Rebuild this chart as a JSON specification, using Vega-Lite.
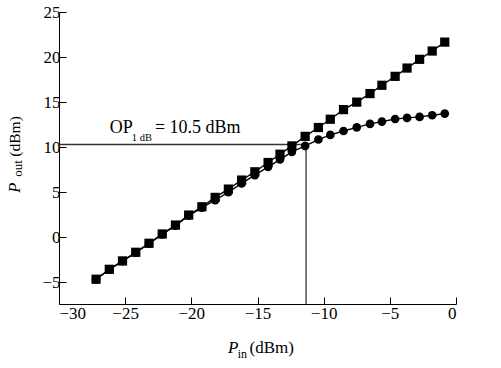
{
  "$schema": "https://vega.github.io/schema/vega-lite/v6.json",
  "width": 397,
  "height": 292,
  "autosize": "none",
  "padding": {"left": 59, "top": 12, "right": 45, "bottom": 64},
  "background": "white",
  "config": {
    "view": {"stroke": null},
    "text": {"font": "Liberation Serif"},
    "axis": {
      "domainColor": "black",
      "domainWidth": 1,
      "tickColor": "black",
      "tickWidth": 1,
      "labelColor": "black",
      "labelFont": "Liberation Serif",
      "labelFontSize": 17,
      "grid": false,
      "title": null
    }
  },
  "datasets": {
    "curves": [
      {"series": "linear", "pin": -27.2, "pout": -4.65},
      {"series": "linear", "pin": -26.2, "pout": -3.55},
      {"series": "linear", "pin": -25.2, "pout": -2.62},
      {"series": "linear", "pin": -24.2, "pout": -1.66},
      {"series": "linear", "pin": -23.2, "pout": -0.66},
      {"series": "linear", "pin": -22.2, "pout": 0.37},
      {"series": "linear", "pin": -21.2, "pout": 1.36},
      {"series": "linear", "pin": -20.2, "pout": 2.47},
      {"series": "linear", "pin": -19.2, "pout": 3.39},
      {"series": "linear", "pin": -18.2, "pout": 4.43},
      {"series": "linear", "pin": -17.2, "pout": 5.35},
      {"series": "linear", "pin": -16.2, "pout": 6.35},
      {"series": "linear", "pin": -15.2, "pout": 7.27},
      {"series": "linear", "pin": -14.2, "pout": 8.3},
      {"series": "linear", "pin": -13.3, "pout": 9.22},
      {"series": "linear", "pin": -12.4, "pout": 10.14},
      {"series": "linear", "pin": -11.4, "pout": 11.2},
      {"series": "linear", "pin": -10.4, "pout": 12.18},
      {"series": "linear", "pin": -9.5, "pout": 13.1},
      {"series": "linear", "pin": -8.5, "pout": 14.17},
      {"series": "linear", "pin": -7.5, "pout": 15.0},
      {"series": "linear", "pin": -6.5, "pout": 15.95},
      {"series": "linear", "pin": -5.6, "pout": 16.87},
      {"series": "linear", "pin": -4.6, "pout": 17.86},
      {"series": "linear", "pin": -3.7, "pout": 18.78},
      {"series": "linear", "pin": -2.75, "pout": 19.75},
      {"series": "linear", "pin": -1.8, "pout": 20.67},
      {"series": "linear", "pin": -0.85, "pout": 21.66},
      {"series": "measured", "pin": -27.2, "pout": -4.65},
      {"series": "measured", "pin": -26.2, "pout": -3.6},
      {"series": "measured", "pin": -25.2, "pout": -2.65},
      {"series": "measured", "pin": -24.2, "pout": -1.7},
      {"series": "measured", "pin": -23.2, "pout": -0.7},
      {"series": "measured", "pin": -22.2, "pout": 0.33},
      {"series": "measured", "pin": -21.2, "pout": 1.3},
      {"series": "measured", "pin": -20.2, "pout": 2.4},
      {"series": "measured", "pin": -19.2, "pout": 3.3},
      {"series": "measured", "pin": -18.2, "pout": 4.13},
      {"series": "measured", "pin": -17.2, "pout": 5.0},
      {"series": "measured", "pin": -16.2, "pout": 5.98},
      {"series": "measured", "pin": -15.2, "pout": 6.9},
      {"series": "measured", "pin": -14.2, "pout": 7.82},
      {"series": "measured", "pin": -13.3, "pout": 8.63},
      {"series": "measured", "pin": -12.4, "pout": 9.48},
      {"series": "measured", "pin": -11.4, "pout": 10.14},
      {"series": "measured", "pin": -10.4, "pout": 10.85},
      {"series": "measured", "pin": -9.5, "pout": 11.36},
      {"series": "measured", "pin": -8.5, "pout": 11.8},
      {"series": "measured", "pin": -7.5, "pout": 12.2},
      {"series": "measured", "pin": -6.5, "pout": 12.58},
      {"series": "measured", "pin": -5.6, "pout": 12.84},
      {"series": "measured", "pin": -4.6, "pout": 13.13},
      {"series": "measured", "pin": -3.7, "pout": 13.25},
      {"series": "measured", "pin": -2.75, "pout": 13.36},
      {"series": "measured", "pin": -1.8, "pout": 13.54},
      {"series": "measured", "pin": -0.85, "pout": 13.73}
    ],
    "guides": [
      {"x": -30, "x2": -11.33, "y": 10.3, "y2": 10.3},
      {"x": -11.33, "x2": -11.33, "y": -7.4, "y2": 10.3}
    ],
    "labels": [
      {"part": "ann_main", "label": "OP", "x": -26.17, "y": 11.58},
      {"part": "ann_sub", "label": "1 dB", "x": -24.5, "y": 10.64},
      {"part": "ann_main", "label": "= 10.5 dBm", "x": -22.75, "y": 11.58},
      {"part": "xt_it", "label": "P", "x": -17.22, "y": -12.8},
      {"part": "xt_sub", "label": "in", "x": -16.5, "y": -13.36},
      {"part": "xt_main", "label": "(dBm)", "x": -15.6, "y": -12.8},
      {"part": "yt_it", "label": "P", "x": -32.97, "y": 4.95},
      {"part": "yt_sub", "label": "out", "x": -32.8, "y": 6.72},
      {"part": "yt_main", "label": "(dBm)", "x": -32.95, "y": 8.95}
    ]
  },
  "layer": [
    {
      "data": {"name": "guides"},
      "mark": {"type": "rule", "color": "#333333", "strokeWidth": 1.3},
      "encoding": {
        "x": {"field": "x", "type": "quantitative", "scale": {"domain": [-30, 0], "nice": false, "zero": false},
          "axis": {
            "values": [-30, -27.5, -25, -22.5, -20, -17.5, -15, -12.5, -10, -7.5, -5, -2.5, 0],
            "labelExpr": "datum.value % 5 === 0 ? datum.label : ''",
            "labelFont": "Liberation Serif",
            "tickSize": {"condition": {"test": "datum.value % 5 === 0", "value": -7}, "value": -4},
            "labelPadding": 8
          }},
        "x2": {"field": "x2"},
        "y": {"field": "y", "type": "quantitative", "scale": {"domain": [-7.4, 25], "nice": false, "zero": false},
          "axis": {
            "values": [-5, -2.5, 0, 2.5, 5, 7.5, 10, 12.5, 15, 17.5, 20, 22.5, 25],
            "labelExpr": "datum.value % 5 === 0 ? datum.label : ''",
            "labelFont": "Liberation Serif",
            "tickSize": {"condition": {"test": "datum.value % 5 === 0", "value": -7}, "value": -4},
            "labelPadding": 6
          }},
        "y2": {"field": "y2"}
      }
    },
    {
      "data": {"name": "curves"},
      "mark": {"type": "line", "color": "black", "strokeWidth": 1.4},
      "encoding": {
        "x": {"field": "pin", "type": "quantitative"},
        "y": {"field": "pout", "type": "quantitative"},
        "detail": {"field": "series"}
      }
    },
    {
      "data": {"name": "curves"},
      "transform": [{"filter": "datum.series === 'measured'"}],
      "mark": {"type": "point", "shape": "circle", "filled": true, "color": "black", "opacity": 1, "size": 75},
      "encoding": {
        "x": {"field": "pin", "type": "quantitative"},
        "y": {"field": "pout", "type": "quantitative"}
      }
    },
    {
      "data": {"name": "curves"},
      "transform": [{"filter": "datum.series === 'linear'"}],
      "mark": {"type": "point", "shape": "square", "filled": true, "color": "black", "opacity": 1, "size": 85},
      "encoding": {
        "x": {"field": "pin", "type": "quantitative"},
        "y": {"field": "pout", "type": "quantitative"}
      }
    },
    {
      "data": {"name": "labels"},
      "transform": [{"filter": "datum.part === 'ann_main'"}],
      "mark": {"type": "text", "font": "Liberation Serif", "fontSize": 18, "align": "left", "baseline": "alphabetic", "color": "black"},
      "encoding": {"x": {"field": "x", "type": "quantitative"}, "y": {"field": "y", "type": "quantitative"}, "text": {"field": "label"}}
    },
    {
      "data": {"name": "labels"},
      "transform": [{"filter": "datum.part === 'ann_sub'"}],
      "mark": {"type": "text", "font": "Liberation Serif", "fontSize": 10.5, "align": "left", "baseline": "alphabetic", "color": "black"},
      "encoding": {"x": {"field": "x", "type": "quantitative"}, "y": {"field": "y", "type": "quantitative"}, "text": {"field": "label"}}
    },
    {
      "data": {"name": "labels"},
      "transform": [{"filter": "datum.part === 'xt_it'"}],
      "mark": {"type": "text", "font": "Liberation Serif", "fontSize": 17, "fontStyle": "italic", "align": "left", "baseline": "alphabetic", "color": "black"},
      "encoding": {"x": {"field": "x", "type": "quantitative"}, "y": {"field": "y", "type": "quantitative"}, "text": {"field": "label"}}
    },
    {
      "data": {"name": "labels"},
      "transform": [{"filter": "datum.part === 'xt_sub'"}],
      "mark": {"type": "text", "font": "Liberation Serif", "fontSize": 12, "align": "left", "baseline": "alphabetic", "color": "black"},
      "encoding": {"x": {"field": "x", "type": "quantitative"}, "y": {"field": "y", "type": "quantitative"}, "text": {"field": "label"}}
    },
    {
      "data": {"name": "labels"},
      "transform": [{"filter": "datum.part === 'xt_main'"}],
      "mark": {"type": "text", "font": "Liberation Serif", "fontSize": 17, "align": "left", "baseline": "alphabetic", "color": "black"},
      "encoding": {"x": {"field": "x", "type": "quantitative"}, "y": {"field": "y", "type": "quantitative"}, "text": {"field": "label"}}
    },
    {
      "data": {"name": "labels"},
      "transform": [{"filter": "datum.part === 'yt_it'"}],
      "mark": {"type": "text", "font": "Liberation Serif", "fontSize": 16.5, "fontStyle": "italic", "angle": 270, "align": "left", "baseline": "alphabetic", "color": "black"},
      "encoding": {"x": {"field": "x", "type": "quantitative"}, "y": {"field": "y", "type": "quantitative"}, "text": {"field": "label"}}
    },
    {
      "data": {"name": "labels"},
      "transform": [{"filter": "datum.part === 'yt_sub'"}],
      "mark": {"type": "text", "font": "Liberation Serif", "fontSize": 13, "angle": 270, "align": "left", "baseline": "alphabetic", "color": "black"},
      "encoding": {"x": {"field": "x", "type": "quantitative"}, "y": {"field": "y", "type": "quantitative"}, "text": {"field": "label"}}
    },
    {
      "data": {"name": "labels"},
      "transform": [{"filter": "datum.part === 'yt_main'"}],
      "mark": {"type": "text", "font": "Liberation Serif", "fontSize": 15.5, "angle": 270, "align": "left", "baseline": "alphabetic", "color": "black"},
      "encoding": {"x": {"field": "x", "type": "quantitative"}, "y": {"field": "y", "type": "quantitative"}, "text": {"field": "label"}}
    }
  ]
}
